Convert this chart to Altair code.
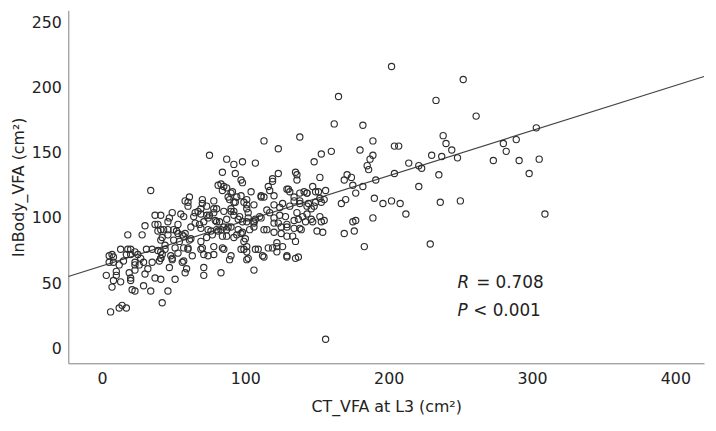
import altair as alt
import pandas as pd

# CT_VFA at L3 (x) and InBody_VFA (y)
ct_vfa = [
    202, 252, 165, 233, 261, 162, 182, 303, 238, 138, 113, 189, 240, 289, 280, 204, 207, 123, 244, 160,
    282, 180, 153, 75, 230, 237, 189, 187, 248, 305, 273, 291, 87, 98, 92, 107, 148, 214, 221, 223,
    185, 186, 84, 93, 123, 135, 136, 204, 235, 298, 171, 174, 119, 119, 97, 98, 136, 169, 191, 152,
    83, 85, 87, 34, 147, 156, 175, 182, 221, 177, 130, 131, 138, 143, 151, 117, 111, 113, 104, 91,
    90, 94, 61, 70, 58, 78, 89, 93, 99, 101, 155, 153, 167, 170, 190, 196, 202, 208, 236, 250,
    212, 229, 309, 156, 106, 42, 6, 12, 14, 17, 7, 34, 46, 21, 23, 3, 10, 183, 189, 175,
    177, 176, 169, 150, 154, 155, 153, 137, 129, 113, 122, 119, 126, 135, 129, 133, 109, 101, 101, 102,
    89, 84, 71, 78, 71, 71, 83, 69, 70, 48, 56, 59, 58, 51, 47, 37, 41, 29, 23, 26,
    32, 30, 19, 20, 20, 23, 29, 17, 18, 20, 23, 25, 7, 8, 15, 12, 5, 10, 8, 13,
    18, 28, 30, 37, 41, 39, 41, 42, 41, 35, 39, 40, 41, 41, 42, 46, 50, 47, 49, 55,
    57, 53, 56, 57, 54, 60, 57, 51, 44, 49, 62, 62, 60, 64, 67, 69, 69, 73, 78, 71,
    68, 73, 74, 79, 80, 82, 87, 74, 80, 77, 81, 85, 87, 90, 87, 84, 95, 94, 92, 90,
    92, 95, 98, 101, 102, 102, 106, 106, 103, 98, 100, 99, 99, 107, 110, 113, 115, 117, 120, 124,
    120, 123, 125, 128, 131, 134, 138, 136, 137, 140, 143, 146, 146, 142, 139, 134, 125, 120, 122, 129,
    148, 149, 152, 144, 141,
    37, 39, 43, 46, 50, 52, 58, 61, 65, 69, 73, 76, 80, 83, 88, 92, 97, 101, 106, 111,
    115, 120, 124, 129, 134, 138, 143, 147, 152,
    5, 8, 13, 20, 23, 27, 31, 35, 41, 44, 49, 53, 57, 60, 63, 69, 74, 78, 85, 90,
    97, 101, 107, 112, 116, 122, 129, 135,
    81, 84, 88, 92, 97, 101, 106, 111, 116, 120, 126, 129, 134, 138, 143, 149, 60, 65, 70, 75,
    78, 85, 90, 96, 46, 53,
]
inbody_vfa = [
    216, 206, 193, 190, 178, 172, 171, 169, 163, 162, 159, 159, 157, 160, 157, 155, 155, 153, 152, 151,
    151, 152, 149, 148, 148, 147, 148, 145, 146, 145, 144, 144, 145, 143, 141, 142, 143, 142, 140, 138,
    140, 137, 135, 134, 134, 135, 133, 134, 133, 134, 133, 131, 130, 128, 129, 127, 129, 129, 129, 131,
    126, 124, 123, 121, 124, 121, 125, 124, 124, 119, 122, 120, 119, 119, 120, 121, 117, 116, 120, 120,
    119, 116, 116, 114, 113, 113, 114, 112, 112, 110, 114, 112, 111, 114, 115, 111, 113, 111, 112, 113,
    103, 80, 103, 7, 60, 35, 28, 31, 33, 31, 47, 44, 44, 45, 44, 56, 56, 78, 100, 97,
    98, 90, 88, 90, 89, 98, 97, 70, 70, 70, 74, 77, 78, 82, 86, 86, 76, 78, 74, 69,
    68, 77, 72, 72, 62, 56, 58, 82, 77, 71, 66, 61, 58, 53, 62, 54, 53, 66, 66, 64,
    61, 57, 58, 54, 52, 60, 48, 72, 76, 76, 74, 72, 72, 70, 67, 64, 66, 59, 52, 51,
    87, 87, 94, 102, 102, 95, 91, 85, 83, 76, 75, 67, 69, 74, 72, 91, 91, 100, 104, 103,
    101, 88, 87, 86, 82, 77, 77, 77, 79, 69, 93, 84, 112, 101, 105, 107, 103, 109, 104, 97,
    95, 102, 100, 98, 107, 97, 99, 91, 91, 87, 90, 93, 91, 93, 86, 86, 91, 87, 105, 105,
    102, 99, 97, 107, 104, 100, 97, 96, 91, 89, 84, 82, 76, 99, 101, 91, 106, 104, 110, 108,
    100, 96, 93, 101, 109, 113, 113, 104, 99, 101, 109, 107, 99, 97, 91, 92, 88, 89, 81, 95,
    109, 112, 115, 111, 120,
    95, 90, 91, 87, 83, 90, 88, 83, 96, 92, 85, 90, 97, 91, 93, 85, 88, 97, 93, 100,
    91, 96, 102, 93, 98, 92, 103, 97, 101,
    71, 66, 76, 72, 64, 69, 76, 66, 69, 76, 68, 73, 67, 76, 71, 76, 71, 78, 76, 71,
    76, 68, 76, 71, 77, 78, 71, 69,
    125, 121, 116, 112, 117, 114, 110, 116, 124, 117, 111, 122, 116, 111, 119, 120, 109, 104, 111, 102,
    107, 105, 107, 101, 97, 95,
]

# fitted regression line (endpoints at the axis limits)
fit_x = [-23.5, 420]
fit_y = [55.1, 208.3]

x_ticks = [0, 100, 200, 300, 400]
y_ticks = [0, 50, 100, 150, 200, 250]

pts = pd.DataFrame({"ct": ct_vfa, "inbody": inbody_vfa})
fit = pd.DataFrame({"ct": fit_x, "inbody": fit_y})

FONT = "DejaVu Sans"
xscale = alt.Scale(domain=[-23.5, 420], nice=False, zero=False)
yscale = alt.Scale(domain=[-11.4, 259], nice=False, zero=False)

xaxis = alt.Axis(values=x_ticks, title="CT_VFA at L3 (cm²)", grid=False, ticks=False,
                 domainColor="#808080", labelPadding=7, titlePadding=13)
yaxis = alt.Axis(values=y_ticks, title="InBody_VFA (cm²)", grid=False, ticks=False,
                 domainColor="#808080", labelPadding=7, titlePadding=5)

points = alt.Chart(pts).mark_point(shape="circle", filled=False, size=40,
                                   stroke="#2e2e2e", strokeWidth=1.15, opacity=1).encode(
    x=alt.X("ct:Q", scale=xscale, axis=xaxis),
    y=alt.Y("inbody:Q", scale=yscale, axis=yaxis),
)

line = alt.Chart(fit).mark_line(color="#444444", strokeWidth=1.2, clip=True).encode(
    x=alt.X("ct:Q", scale=xscale),
    y=alt.Y("inbody:Q", scale=yscale),
)

txt_style = dict(font=FONT, fontSize=17, color="#222222", align="left", baseline="middle")
r_i = alt.Chart().mark_text(fontStyle="italic", **txt_style).encode(
    x=alt.datum(248), y=alt.datum(50), text=alt.value("R"))
r_v = alt.Chart().mark_text(**txt_style).encode(
    x=alt.datum(261), y=alt.datum(50), text=alt.value("= 0.708"))
p_i = alt.Chart().mark_text(fontStyle="italic", **txt_style).encode(
    x=alt.datum(248), y=alt.datum(28.5), text=alt.value("P"))
p_v = alt.Chart().mark_text(**txt_style).encode(
    x=alt.datum(259), y=alt.datum(28.5), text=alt.value("< 0.001"))

chart = alt.layer(line, points, r_i, r_v, p_i, p_v).properties(
    width=643, height=357,
    autosize=alt.AutoSizeParams(type="none"),
    padding={"left": 61, "top": 0, "right": 4, "bottom": 58},
).configure_view(stroke=None).configure_axis(
    labelFont=FONT, titleFont=FONT, labelFontSize=16, titleFontSize=16,
    labelColor="#222222", titleColor="#222222", titleFontWeight="normal",
)

chart.save("out.html", embed_options={"renderer": "svg", "actions": False})
